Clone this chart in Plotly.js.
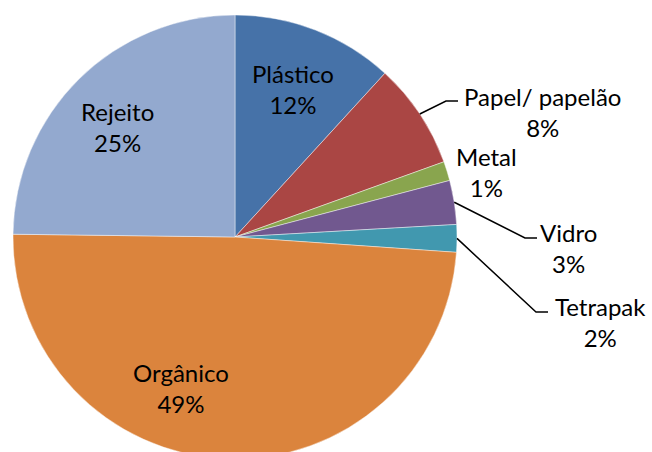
<!DOCTYPE html>
<html>
<head>
<meta charset="utf-8">
<script src="https://cdn.plot.ly/plotly-3.0.1.min.js"></script>
<style>
  html, body { margin: 0; padding: 0; overflow: hidden; background: #fff; }
  #chart { width: 652px; height: 470px; }
</style>
</head>
<body>
<div id="chart"></div>
<script>
// ---- data ----
const categories = ['Plástico', 'Papel/ papelão', 'Metal', 'Vidro', 'Tetrapak', 'Orgânico', 'Rejeito'];
const values = [11.8, 7.7, 1.4, 3.2, 2.0, 49.1, 24.8];
const colors = ['#4672A8', '#AA4644', '#89A54E', '#71588F', '#4198AF', '#DB843D', '#93A9CF'];

// ---- layout of labels (pixel centres of each two-line label block) ----
const labelPos = [[293, 89], [542, 111.5], [486, 171.5], [568, 247.5], [600, 321.5], [180.5, 387.5], [117, 127]];
// leader line: elbow end point (pixels) for the slices that have one, null otherwise
const leaderEnd = [null, [458, 101], null, [537, 238], [548, 312], null, null];
const elbowLen = 12;

const W = 652, H = 470;
const M = { l: 13, r: 195, t: 15, b: 11 };
const pw = W - M.l - M.r, ph = H - M.t - M.b;
const cx = M.l + pw / 2, cy = M.t + ph / 2, R = Math.min(pw, ph) / 2;
const toX = x => (x - M.l) / pw;
const toY = y => 1 - (y - M.t) / ph;

const total = values.reduce((a, b) => a + b, 0);
const annotations = [];
const shapes = [];
let cum = 0;
values.forEach((v, i) => {
  const mid = (cum + v / 2) / total * 2 * Math.PI;
  cum += v;
  const pct = Math.round(v / total * 100) + '%';
  annotations.push({
    xref: 'paper', yref: 'paper',
    x: toX(labelPos[i][0]), y: toY(labelPos[i][1]),
    xanchor: 'center', yanchor: 'middle',
    text: categories[i] + '<br>' + pct,
    showarrow: false,
    align: 'center',
    font: { family: 'Lato, "Open Sans", sans-serif', size: 24, color: '#000' }
  });
  if (leaderEnd[i]) {
    const sx = cx + R * Math.sin(mid), sy = cy - R * Math.cos(mid);
    const ex = leaderEnd[i][0], ey = leaderEnd[i][1];
    const kx = ex - elbowLen;
    shapes.push({
      type: 'path', xref: 'paper', yref: 'paper',
      path: `M ${toX(sx)},${toY(sy)} L ${toX(kx)},${toY(ey)} L ${toX(ex)},${toY(ey)}`,
      line: { color: '#000', width: 1.5 }
    });
  }
});

const trace = {
  type: 'pie',
  labels: categories,
  values: values,
  sort: false,
  direction: 'clockwise',
  rotation: 0,
  textinfo: 'none',
  hoverinfo: 'label+percent',
  marker: { colors: colors, line: { color: 'rgba(255,255,255,0.55)', width: 0.8 } },
  domain: { x: [0, 1], y: [0, 1] },
  showlegend: false
};

const layout = {
  width: W, height: H,
  margin: M,
  paper_bgcolor: '#fff',
  plot_bgcolor: '#fff',
  showlegend: false,
  annotations: annotations,
  shapes: shapes
};

Plotly.newPlot('chart', [trace], layout, { staticPlot: true, displayModeBar: false });
</script>
</body>
</html>
